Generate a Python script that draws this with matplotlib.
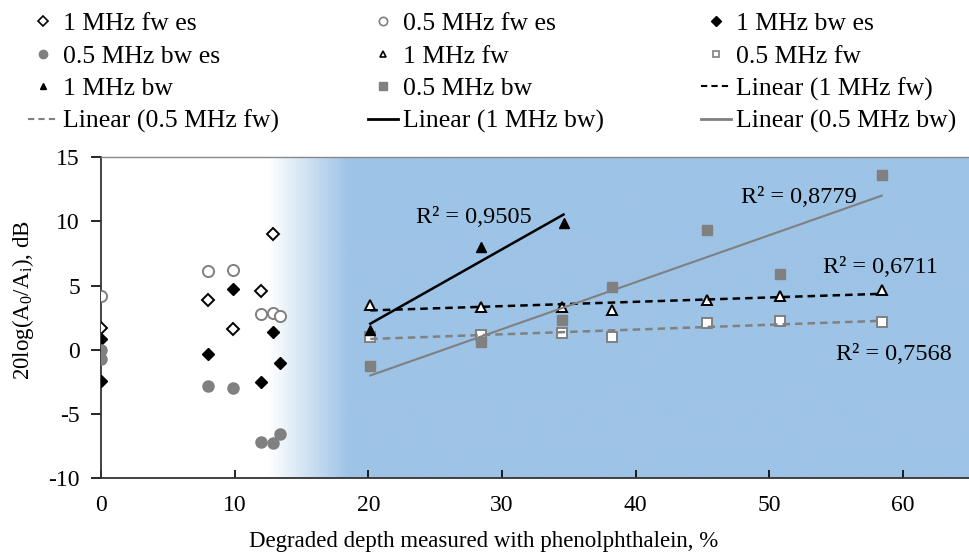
import numpy as np
import matplotlib
matplotlib.use("Agg")
from matplotlib import pyplot as plt
from matplotlib.lines import Line2D

plt.rcParams['font.family'] = ['Liberation Serif', 'DejaVu Serif']
plt.rcParams['mathtext.fontset'] = 'custom'
plt.rcParams['mathtext.rm'] = 'Liberation Serif'
plt.rcParams['mathtext.it'] = 'Liberation Serif:italic'
plt.rcParams['axes.unicode_minus'] = False

# early-stage samples (es)
x_1fw_es = [0, 8.0, 9.9, 12.0, 12.9]
y_1fw_es = [1.7, 3.9, 1.65, 4.6, 9.0]
x_05fw_es = [0, 8.0, 9.9, 12.0, 12.9, 13.4]
y_05fw_es = [4.2, 6.1, 6.25, 2.8, 2.85, 2.6]
x_1bw_es = [0, 0, 8.0, 9.9, 12.0, 12.9, 13.4]
y_1bw_es = [0.8, -2.4, -0.3, 4.7, -2.5, 1.4, -1.0]
x_05bw_es = [0, 0, 8.0, 9.9, 12.0, 12.9, 13.4]
y_05bw_es = [0.0, -0.7, -2.8, -2.95, -7.2, -7.3, -6.55]

# degraded samples
x_1fw = [20.15, 28.4, 34.5, 38.2, 45.3, 50.8, 58.4]
y_1fw = [3.5, 3.35, 3.3, 3.1, 3.9, 4.2, 4.65]
x_05fw = [20.15, 28.4, 34.5, 38.2, 45.3, 50.8, 58.4]
y_05fw = [1.0, 1.15, 1.3, 1.0, 2.05, 2.2, 2.15]
x_1bw = [20.15, 28.4, 34.6]
y_1bw = [1.55, 8.0, 9.9]
x_05bw = [20.15, 28.4, 34.5, 38.2, 45.3, 50.8, 58.4]
y_05bw = [-1.3, 0.6, 2.3, 4.9, 9.3, 5.9, 13.6]

r2_labels = ["R² = 0,9505", "R² = 0,8779", "R² = 0,6711", "R² = 0,7568"]

GRAY = '#808080'
BLUE = np.array([157, 195, 230]) / 255.0

fig = plt.figure(figsize=(9.7, 5.53), dpi=100)
ax = fig.add_axes([0.104, 0.1356, 0.896, 0.58])

# background: white fading into blue
xs = np.linspace(0, 65, 650)
t = np.clip((xs - 12.5) / 6.0, 0, 1)
rgb = (1 - t)[:, None] * np.ones(3) + t[:, None] * BLUE
img = np.tile(rgb[None, :, :], (2, 1, 1))
ax.imshow(img, extent=[0, 65, -10, 15], aspect='auto', zorder=0, interpolation='bilinear')

ms = 8
ax.plot(x_1fw_es, y_1fw_es, 'D', ms=6.5, mfc='white', mec='black', mew=1.4, ls='none', zorder=3)
ax.plot(x_05fw_es, y_05fw_es, 'o', ms=ms, mfc='white', mec=GRAY, mew=1.4, ls='none', zorder=3)
ax.plot(x_1bw_es, y_1bw_es, 'D', ms=6.5, mfc='black', mec='black', ls='none', zorder=3)
ax.plot(x_05bw_es, y_05bw_es, 'o', ms=ms, mfc=GRAY, mec=GRAY, ls='none', zorder=3)
ax.plot(x_1fw, y_1fw, '^', ms=7, mfc='white', mec='black', mew=1.4, ls='none', zorder=3)
ax.plot(x_05fw, y_05fw, 's', ms=7, mfc='white', mec=GRAY, mew=1.4, ls='none', zorder=3)
ax.plot(x_1bw, y_1bw, '^', ms=7, mfc='black', mec='black', ls='none', zorder=3)
ax.plot(x_05bw, y_05bw, 's', ms=7.5, mfc=GRAY, mec=GRAY, ls='none', zorder=3)

# linear trendlines
def trend(xv, yv, **kw):
    p = np.polyfit(xv, yv, 1)
    xx = np.array([min(xv), max(xv)])
    ax.plot(xx, np.polyval(p, xx), zorder=4, **kw)

trend(x_1fw, y_1fw, color='black', lw=1.8, ls=(0, (3, 2)))
trend(x_05fw, y_05fw, color=GRAY, lw=1.8, ls=(0, (3, 2)))
trend(x_1bw, y_1bw, color='black', lw=1.8)
trend(x_05bw, y_05bw, color=GRAY, lw=1.5)

fs = 17
ax.text(23.6, 10.3, r2_labels[0], fontsize=17.5, va='center', zorder=5)
ax.text(47.9, 11.9, r2_labels[1], fontsize=17.5, va='center', zorder=5)
ax.text(54.0, 6.4, r2_labels[2], fontsize=17.5, va='center', zorder=5)
ax.text(55.0, -0.4, r2_labels[3], fontsize=17.5, va='center', zorder=5)

ax.set_xlim(0, 65)
ax.set_ylim(-10, 15)
ax.set_xticks(range(0, 61, 10))
ax.set_yticks(range(-10, 16, 5))
ax.tick_params(axis='x', direction='in', length=6, width=1.2, labelsize=fs, pad=12)
ax.tick_params(axis='y', direction='out', length=7, width=1.2, labelsize=fs, pad=8)
for s in ['left', 'bottom']:
    ax.spines[s].set_linewidth(1.3)
    ax.spines[s].set_color('#333333')
ax.spines['top'].set_color('#888888')
ax.spines['top'].set_linewidth(1.0)
ax.spines['right'].set_visible(False)

ax.set_xlabel('Degraded depth measured with phenolphthalein, %', fontsize=16.5)
ax.xaxis.set_label_coords(0.44, -0.165)
ax.set_ylabel(r'20log(A$_\mathrm{0}$/A$_\mathrm{i}$), dB', fontsize=16.5)
ax.yaxis.set_label_coords(-0.075, 0.555)

# legend: three one-column blocks placed like the reference
h = [
    Line2D([], [], marker='D', ms=5, mfc='white', mec='black', mew=1.2, ls='none'),
    Line2D([], [], marker='o', ms=6, mfc='white', mec=GRAY, mew=1.2, ls='none'),
    Line2D([], [], marker='D', ms=5, mfc='black', mec='black', ls='none'),
    Line2D([], [], marker='o', ms=6, mfc=GRAY, mec=GRAY, ls='none'),
    Line2D([], [], marker='^', ms=5, mfc='white', mec='black', mew=1.2, ls='none'),
    Line2D([], [], marker='s', ms=5, mfc='white', mec=GRAY, mew=1.2, ls='none'),
    Line2D([], [], marker='^', ms=5, mfc='black', mec='black', ls='none'),
    Line2D([], [], marker='s', ms=6, mfc=GRAY, mec=GRAY, ls='none'),
    Line2D([], [], color='black', lw=1.5, ls=(0, (3, 2))),
    Line2D([], [], color=GRAY, lw=1.5, ls=(0, (3, 2))),
    Line2D([], [], color='black', lw=2),
    Line2D([], [], color=GRAY, lw=2),
]
labels = ['1 MHz fw es', '0.5 MHz fw es', '1 MHz bw es', '0.5 MHz bw es',
          '1 MHz fw', '0.5 MHz fw', '1 MHz bw', '0.5 MHz bw',
          'Linear (1 MHz fw)', 'Linear (0.5 MHz fw)', 'Linear (1 MHz bw)',
          'Linear (0.5 MHz bw)']
col_x = [28, 368, 701]
for c in range(3):
    idx = [c, c + 3, c + 6, c + 9]
    fig.legend([h[i] for i in idx], [labels[i] for i in idx], ncol=1,
               loc='upper left', bbox_to_anchor=(col_x[c] / 970, 0.978),
               frameon=False, fontsize=18.5, handlelength=1.15,
               handletextpad=0.2, labelspacing=0.37, borderpad=0,
               borderaxespad=0)

fig.savefig('out.png', dpi=100)
